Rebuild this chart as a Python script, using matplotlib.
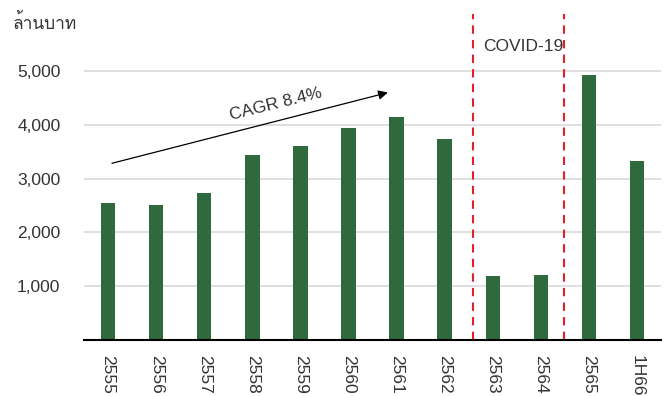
import matplotlib
matplotlib.use('Agg')
import matplotlib.pyplot as plt
from matplotlib import font_manager as fm
from matplotlib.ft2font import FT2Font

# Data
years = ['2555', '2556', '2557', '2558', '2559', '2560',
         '2561', '2562', '2563', '2564', '2565', '1H66']
revenue = [2550, 2510, 2730, 3440, 3610, 3940, 4150, 3740, 1190, 1210, 4930, 3330]
y_ticks = [1000, 2000, 3000, 4000, 5000]
y_label = 'ล้านบาท'
cagr_text = 'CAGR 8.4%'
covid_text = 'COVID-19'


# Find an installed font that has Thai glyphs for the unit label
def find_thai_font():
    for f in fm.fontManager.ttflist:
        try:
            if 0x0E01 in FT2Font(f.fname).get_charmap():
                return f.name
        except Exception:
            pass
    return None


thai = find_thai_font()
base = 'Liberation Sans'
plt.rcParams['font.family'] = [base, thai] if thai else [base, 'DejaVu Sans']

bar_color = '#2f6a3f'
text_color = '#333333'

fig = plt.figure(figsize=(6.67, 3.96), dpi=100)
ax = fig.add_axes([0.126, 0.1414, 0.865, 0.8232])

x = list(range(len(years)))
ax.bar(x, revenue, width=0.3, color=bar_color, zorder=3)

ax.set_xlim(-0.5, len(years) - 0.5)
ax.set_ylim(0, 6060)
ax.set_yticks(y_ticks)
ax.set_yticklabels([f'{v:,}' for v in y_ticks])
ax.set_xticks(x)
ax.set_xticklabels(years, rotation=-90, va='top', ha='center')
ax.tick_params(axis='both', length=0, labelsize=12.5, colors=text_color)
ax.tick_params(axis='y', pad=17)
ax.tick_params(axis='x', pad=11)
ax.yaxis.grid(True, color='#d9d9d9', linewidth=1.2, zorder=0)

for s in ['left', 'right', 'top']:
    ax.spines[s].set_visible(False)
ax.spines['bottom'].set_color('black')
ax.spines['bottom'].set_linewidth(1.5)
ax.spines['bottom'].set_zorder(4)

# COVID period markers
for xv in [7.58, 9.49]:
    ax.axvline(xv, color='#e0202a', linestyle=(0, (4, 3)), linewidth=1.5, zorder=2)
ax.text(7.8, 5460, covid_text, fontsize=12.5, color=text_color, va='center', ha='left')

# CAGR arrow
ax.annotate('', xy=(5.82, 4600), xytext=(0.08, 3285),
            arrowprops=dict(arrowstyle='-|>', color='black', lw=0.9,
                            mutation_scale=14, shrinkA=0, shrinkB=0))
ax.text(3.49, 4390, cagr_text, fontsize=12.5, color=text_color,
        rotation=14, rotation_mode='anchor', ha='center', va='center')

fig.text(13 / 667, 1 - 22 / 396, y_label, fontsize=12.5, color=text_color,
         ha='left', va='center')

fig.savefig('out.png', dpi=100)
